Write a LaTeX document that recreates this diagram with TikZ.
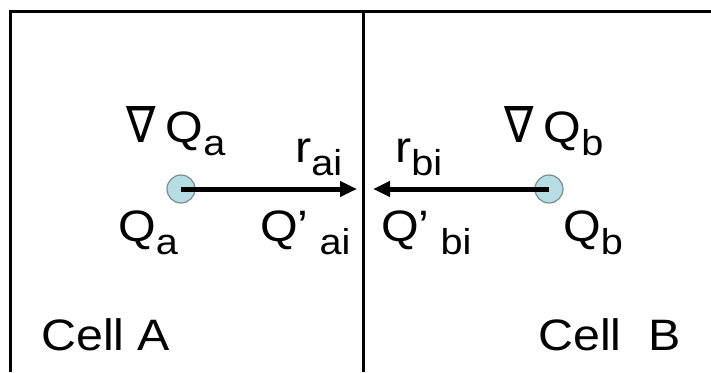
\documentclass[tikz,border=0pt]{standalone}
\usepackage{fontspec}
\setmainfont{Liberation Sans}[FakeStretch=1.1]
\newfontfamily\symfont{DejaVu Sans}
\usepackage{xcolor}
\usetikzlibrary{arrows.meta}
\definecolor{dotfill}{RGB}{183,221,228}
\definecolor{dotline}{RGB}{120,140,145}
\newcommand\sub[1]{\raisebox{-13pt}{\fontsize{36}{36}\selectfont #1}}
\newcommand\grad{\scalebox{1.1}[1.25]{\symfont\fontsize{40}{40}\selectfont ∇}\hspace{10pt}}

\begin{document}
\begin{tikzpicture}[
  x=1pt, y=-1pt,
  lbl/.style={inner sep=0pt, anchor=base west, font=\fontsize{44}{50}\selectfont},
  dot/.style={circle, draw=dotline, fill=dotfill, line width=1.2pt,
              minimum size=28pt, inner sep=0pt},
  arr/.style={-{Triangle[length=17pt, width=15pt]}, line width=5pt},
  frame/.style={line width=3pt}
]
\useasboundingbox (0,0) rectangle (711,372);
% cell walls
\coordinate (tl) at (10,11);
\coordinate (tr) at (711,11);
\coordinate (bl) at (10,372);
\coordinate (mt) at (363,11);
\coordinate (mb) at (363,372);
\draw[frame] (bl) -- (tl) -- (tr);
\draw[frame] (mt) -- (mb);
% cell centres
\node[dot] (ptA) at (181,189) {};
\node[dot] (ptB) at (549,189) {};
\coordinate (tipA) at (357,189);
\coordinate (tipB) at (373,189);
\draw[arr] (ptA.center) -- (tipA);
\draw[arr] (ptB.center) -- (tipB);
% labels
\node[lbl] (gradA) at (126,142) {\grad Q\sub{a}};
\node[lbl] (rA)    at (295,162) {r\sub{ai}};
\node[lbl] (QA)    at (118,241) {Q\sub{a}};
\node[lbl] (QpA)   at (260,241) {Q’\sub{\ ai}};
\node[lbl] (rB)    at (395,162) {r\sub{bi}};
\node[lbl] (gradB) at (504,142) {\grad Q\sub{b}};
\node[lbl] (QpB)   at (381,241) {Q’\sub{\ bi}};
\node[lbl] (QB)    at (563,241) {Q\sub{b}};
\node[lbl] (cellA) at (41,350)  {Cell A};
\node[lbl] (cellB) at (538,350) {Cell\ \ B};
\end{tikzpicture}
\end{document}
